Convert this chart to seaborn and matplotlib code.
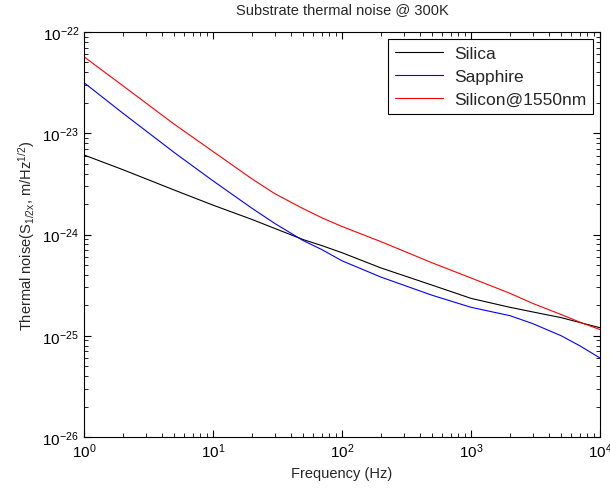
import pandas as pd
import matplotlib
matplotlib.use("Agg")
import matplotlib.pyplot as plt
import matplotlib.ticker as mticker
import seaborn as sns

freq = [1, 2, 5, 10, 20, 30, 50, 70, 100, 200, 500, 1000, 2000, 3000, 5000, 7000, 10000]
silica = [6.10e-24, 4.37e-24, 2.75e-24, 1.95e-24, 1.41e-24, 1.15e-24, 8.91e-25, 7.76e-25,
          6.61e-25, 4.68e-25, 3.16e-25, 2.34e-25, 1.91e-25, 1.72e-25, 1.51e-25, 1.35e-25,
          1.20e-25]
sapphire = [3.16e-23, 1.58e-23, 6.46e-24, 3.39e-24, 1.82e-24, 1.29e-24, 8.71e-25, 7.08e-25,
            5.50e-25, 3.80e-25, 2.51e-25, 1.91e-25, 1.58e-25, 1.32e-25, 1.00e-25, 7.94e-26,
            6.03e-26]
silicon = [5.70e-23, 2.95e-23, 1.23e-23, 6.61e-24, 3.55e-24, 2.54e-24, 1.80e-24, 1.46e-24,
           1.20e-24, 8.51e-25, 5.25e-25, 3.72e-25, 2.63e-25, 2.09e-25, 1.62e-25, 1.36e-25,
           1.15e-25]
names = ["Silica", "Sapphire", "Silicon@1550nm"]
colors = ["black", "blue", "red"]

df = pd.concat([
    pd.DataFrame({"freq": freq, "noise": vals, "material": name})
    for name, vals in zip(names, [silica, sapphire, silicon])
])

sns.set_style("ticks")
plt.rcParams.update({
    "font.family": ["Liberation Sans", "DejaVu Sans"],
    "mathtext.default": "regular",
    "axes.edgecolor": "black", "axes.linewidth": 0.8,
})

fig = plt.figure(figsize=(6.1, 4.89), dpi=100)
ax = fig.add_axes([0.1377, 0.1043, 0.8459, 0.8282])
sns.lineplot(data=df, x="freq", y="noise", hue="material", hue_order=names,
             palette=colors, linewidth=0.8, ax=ax)
ax.set_xscale("log")
ax.set_yscale("log")
ax.set_xlim(1, 1e4)
ax.set_ylim(1e-26, 1e-22)

for axis in (ax.xaxis, ax.yaxis):
    axis.set_major_locator(mticker.LogLocator(base=10, numticks=20))
    axis.set_minor_locator(mticker.LogLocator(base=10, subs=(2, 3, 4, 5, 6, 7, 8, 9),
                                              numticks=100))
    axis.set_minor_formatter(mticker.NullFormatter())
for s in ax.spines.values():
    s.set_visible(True)

ax.tick_params(axis="both", which="both", direction="in", top=True, right=True,
               bottom=True, left=True, colors="black", labelsize=11)
ax.tick_params(axis="both", which="major", length=5, width=0.8)
ax.tick_params(axis="both", which="minor", length=3, width=0.6)

ax.set_title("Substrate thermal noise @ 300K", fontsize=10.5, pad=14)
ax.set_xlabel("Frequency (Hz)", fontsize=10.5)
ax.set_ylabel("Thermal noise(S$_{1/2x}$, m/Hz$^{1/2}$)", fontsize=10.5)

leg = ax.legend(loc="upper right", fontsize=12.5, fancybox=False, framealpha=1,
                edgecolor="black", handlelength=2.8, handletextpad=0.6,
                borderaxespad=0.4, labelspacing=0.45, borderpad=0.4)
leg.get_frame().set_linewidth(0.8)

fig.savefig("out.png", dpi=100)
